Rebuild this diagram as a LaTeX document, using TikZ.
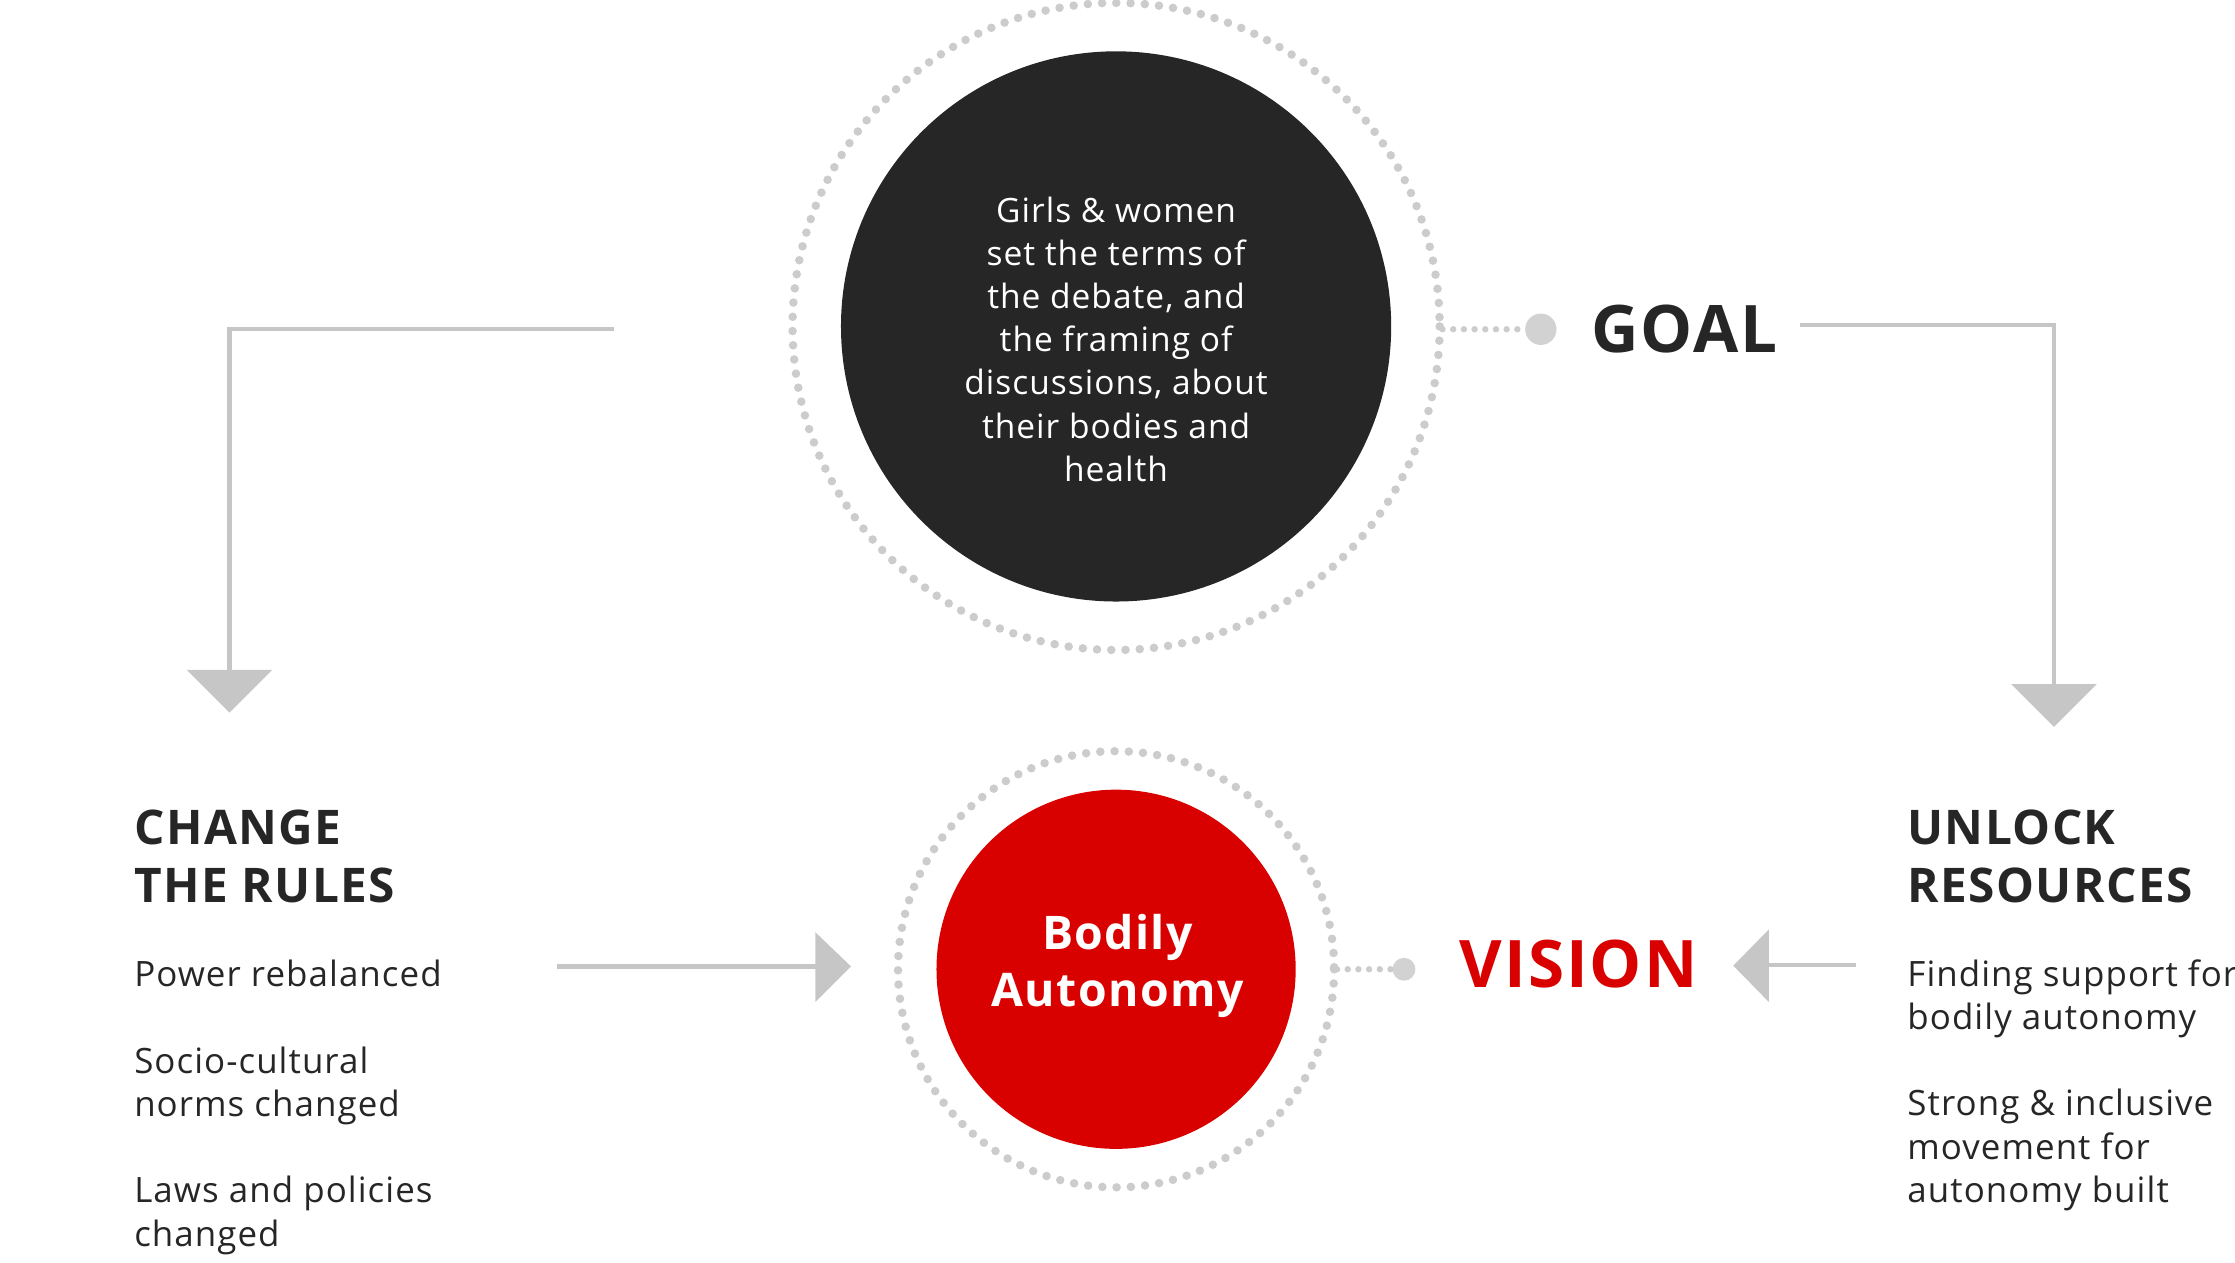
\documentclass[tikz,border=0pt]{standalone}
\usepackage{fontspec}
\setmainfont[LetterSpace=3]{Open Sans}
\begin{document}
\begin{tikzpicture}[x=1pt,y=-1pt,
  ring/.style={draw=gray!40,line width=6pt,line cap=round,dash pattern=on 0pt off 10pt},
  conn/.style={draw=gray!45,line width=3pt},
  tri/.style={fill=gray!45},
  body/.style={anchor=north west,align=left,font=\fontsize{24.5}{30.5}\selectfont,text=black!85,inner sep=0pt},
  head/.style={anchor=north west,align=left,font=\fontsize{33.5}{41}\selectfont\bfseries,text=black!85,inner sep=0pt}]
\useasboundingbox (0,0) rectangle (1568,886);
% goal circle
\draw[ring] (783,229) circle (227);
\node[circle,fill=black!85,minimum size=386pt,inner sep=0pt] (goalc) at (783,229) {};
\node[align=center,text=white,font=\fontsize{23.5}{30.3}\selectfont] (goaltxt) at (783,238)
 {Girls \& women\\set the terms of\\the debate, and\\the framing of\\discussions, about\\their bodies and\\health};
\coordinate (g1) at (1012,231);
\node[circle,fill=gray!35,minimum size=22pt,inner sep=0pt] (gdot) at (1081,231) {};
\draw[ring,line width=4.5pt,dash pattern=on 0pt off 7.5pt] (g1) -- (gdot.west);
\node[font=\fontsize{46}{46}\selectfont\bfseries,text=black!85,anchor=west,inner sep=0pt] (goal) at (1116,231) {GOAL};
% vision circle
\draw[ring] (783,680) circle (153);
\node[circle,fill=red!85!black,minimum size=252pt,inner sep=0pt] (visc) at (783,680) {};
\node[align=center,text=white,font=\fontsize{32.5}{40}\selectfont\bfseries] (vistxt) at (784,678) {Bodily\\Autonomy};
\coordinate (v1) at (938,680);
\node[circle,fill=gray!35,minimum size=16pt,inner sep=0pt] (vdot) at (985,680) {};
\draw[ring,line width=4.5pt,dash pattern=on 0pt off 7.5pt] (v1) -- (vdot.west);
\node[font=\fontsize{46}{46}\selectfont\bfseries,text=red!85!black,anchor=west,inner sep=0pt] (vision) at (1024,676) {VISION};
% right top connector
\coordinate (r0) at (1263,228); \coordinate (r1) at (1441,228); \coordinate (r2) at (1441,482);
\draw[conn] (r0) -- (r1) -- (r2);
\fill[tri] (1411,480) -- (1471,480) -- (1441,510) -- cycle;
% left top connector
\coordinate (l0) at (431,231); \coordinate (l1) at (161,231); \coordinate (l2) at (161,472);
\draw[conn] (l0) -- (l1) -- (l2);
\fill[tri] (131,470) -- (191,470) -- (161,500) -- cycle;
% left arrow
\coordinate (a0) at (391,678); \coordinate (a1) at (574,678);
\draw[conn] (a0) -- (a1);
\fill[tri] (572,654) -- (597,678) -- (572,703) -- cycle;
% right arrow
\coordinate (b0) at (1302,677); \coordinate (b1) at (1239,677);
\draw[conn] (b0) -- (b1);
\fill[tri] (1241,652) -- (1216,677.5) -- (1241,703) -- cycle;
% texts
\node[head] (ch) at (94,568) {CHANGE\\THE RULES};
\node[body] (l1t) at (94,673) {Power rebalanced};
\node[body] (l2t) at (94,734) {Socio-cultural\\norms changed};
\node[body] (l3t) at (94,825) {Laws and policies\\changed};
\node[head] (ur) at (1338,568) {UNLOCK\\RESOURCES};
\node[body] (r1t) at (1338,673) {Finding support for\\bodily autonomy};
\node[body] (r2t) at (1338,764) {Strong \& inclusive\\movement for\\autonomy built};
\end{tikzpicture}
\end{document}
